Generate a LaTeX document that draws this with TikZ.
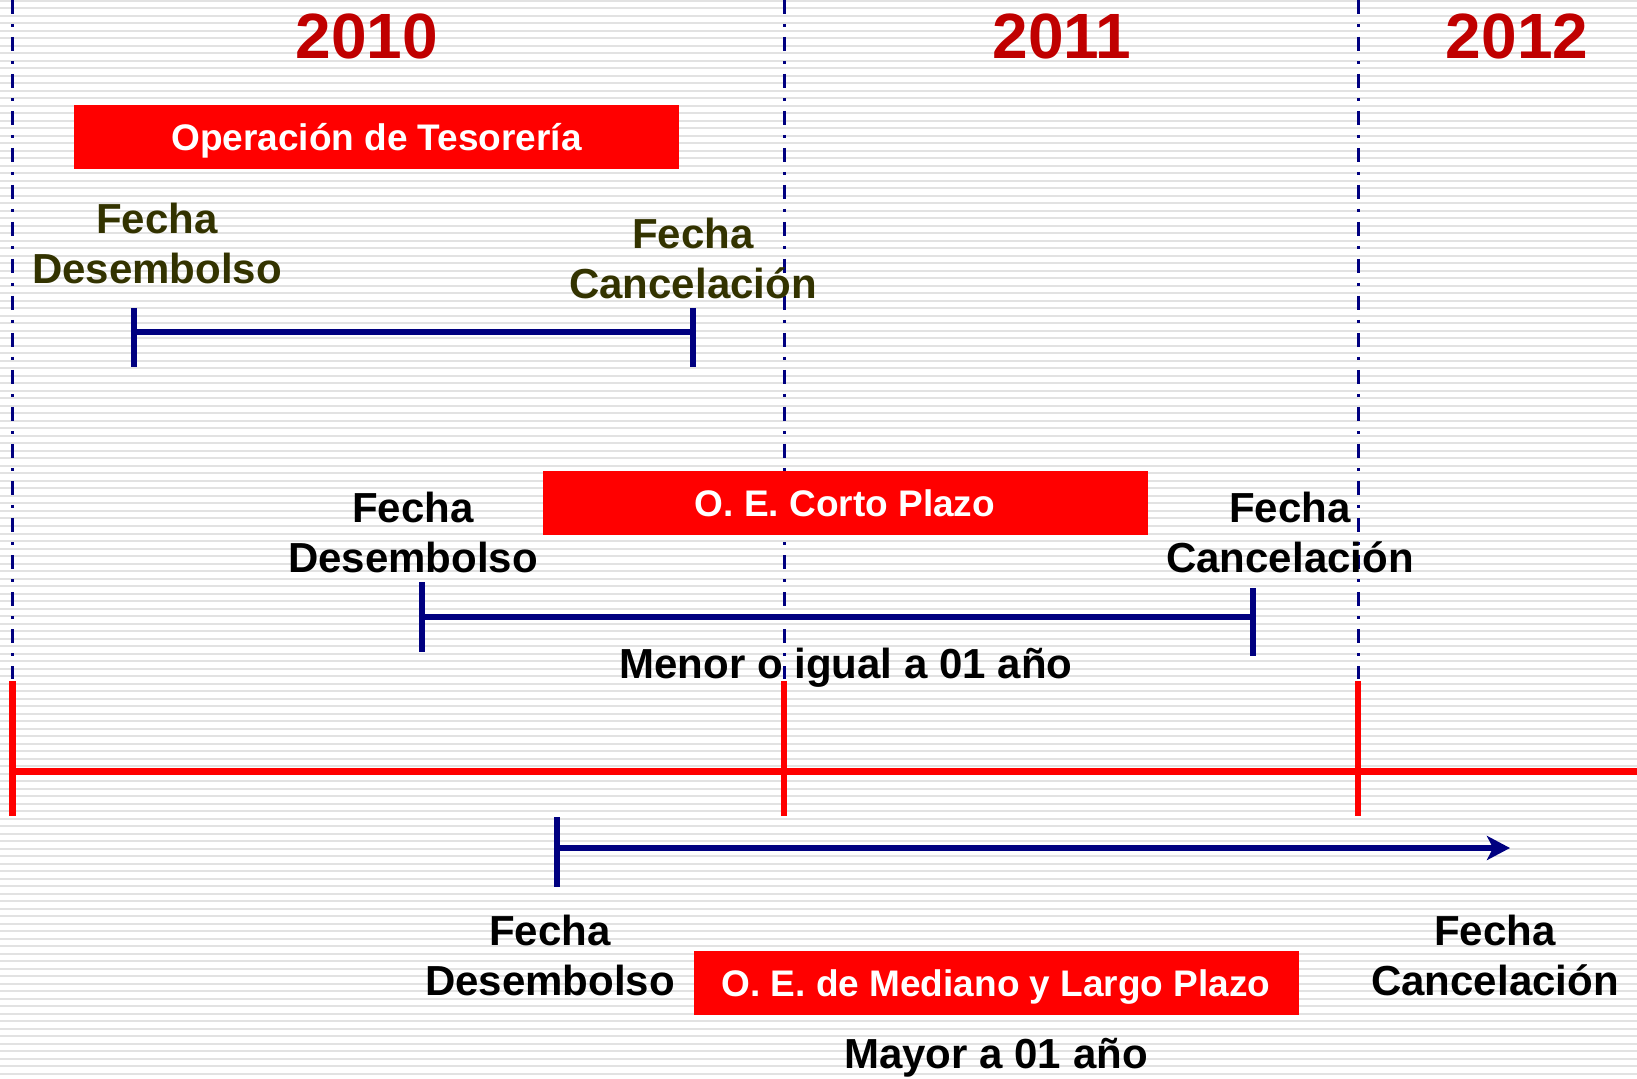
\documentclass[tikz,border=0pt]{standalone}
\usepackage{fontspec}
\setmainfont{Liberation Sans}
\usetikzlibrary{arrows.meta}
\definecolor{anio}{HTML}{C00000}
\definecolor{oliva}{HTML}{333300}
\definecolor{azul}{HTML}{000080}
\definecolor{rojo}{HTML}{FF0000}
\definecolor{raya}{HTML}{E2E2E2}

\begin{document}
\begin{tikzpicture}[x=0.5pt,y=-0.5pt,
    anio/.style={text=anio,font=\fontsize{32}{38}\selectfont\bfseries},
    caja/.style={fill=rojo,text=white,inner sep=0pt,minimum width=302.5pt,
      minimum height=32pt,text height=13.5pt,text depth=0pt,
      font=\fontsize{18.5}{22}\selectfont\bfseries},
    etiqueta/.style={align=center,font=\fontsize{21}{25}\selectfont\bfseries},
    corte/.style={azul,line width=1.5pt,dash pattern=on 7pt off 5pt on 1.5pt off 5pt},
    eje/.style={rojo,line width=3.3pt},
    intervalo/.style={azul,line width=3.3pt}]
    \useasboundingbox (0,0) rectangle (1637,1079);
    % fondo rayado
    \foreach \k in {0,...,143}
        \fill[raya] (0,{\k*7.5}) rectangle (1637,{\k*7.5+2});

    % años
    \node[anio] (a2010) at (367,36.5) {2010};
    \node[anio] (a2011) at (1062,36.5) {2011};
    \node[anio] (a2012) at (1517,36.5) {2012};

    % cortes de año
    \foreach \x/\n in {12.5/c0,784/c1,1358/c2} {
        \coordinate (\n) at (\x,0);
        \coordinate (\n e) at (\x,771.6);
        \draw[corte] (\n) -- (\x,679);
        \draw[eje] (\x,681) -- (\x,816);
    }
    \coordinate (fin) at (1637,771.6);
    \draw[eje] (c0e) -- (fin);

    % operacion de tesoreria
    \node[caja] (tes) at (376.5,137) {Operación de Tesorería};
    \node[etiqueta,text=oliva] (tesD) at (157,243) {Fecha\\Desembolso};
    \node[etiqueta,text=oliva] (tesC) at (693,258) {Fecha\\Cancelación};
    \coordinate (tes1) at (134,332);
    \coordinate (tes2) at (693,332);
    \draw[intervalo] (tes1) -- (tes2);
    \draw[intervalo] (134,308) -- (134,367);
    \draw[intervalo] (693,308) -- (693,367);

    % corto plazo
    \node[caja] (cp) at (845,503) {O. E. Corto Plazo};
    \node[etiqueta] (cpD) at (413,532) {Fecha\\Desembolso};
    \node[etiqueta] (cpC) at (1290,532) {Fecha\\Cancelación};
    \coordinate (cp1) at (422,617);
    \coordinate (cp2) at (1253,617);
    \draw[intervalo] (cp1) -- (cp2);
    \draw[intervalo] (422,582) -- (422,652);
    \draw[intervalo] (1253,588) -- (1253,656);
    \node[etiqueta] (cpT) at (846,668) {Menor o igual a 01 año};

    % mediano y largo plazo
    \coordinate (lp1) at (557,848);
    \coordinate (lp2) at (1510,848);
    \draw[intervalo,-{Stealth[length=11.5pt,width=12pt,inset=3pt]}] (lp1) -- (lp2);
    \draw[intervalo] (557,817) -- (557,887);
    \node[etiqueta] (lpD) at (550,955) {Fecha\\Desembolso};
    \node[caja] (lp) at (996,982.5) {O. E. de Mediano y Largo Plazo};
    \node[etiqueta] (lpC) at (1495,955) {Fecha\\Cancelación};
    \node[etiqueta] (lpT) at (996,1058) {Mayor a 01 año};
\end{tikzpicture}
\end{document}
